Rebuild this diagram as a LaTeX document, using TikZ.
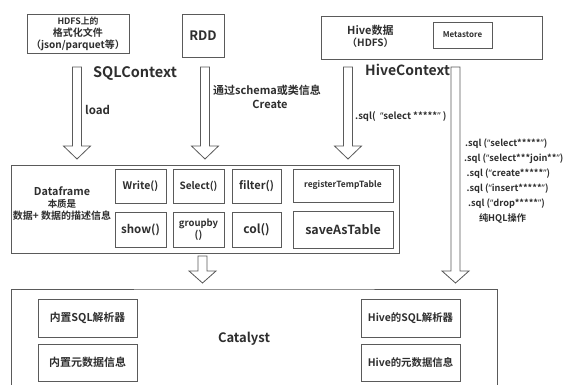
\documentclass[tikz,border=0pt]{standalone}
\usepackage{fontspec}
\setmainfont{Noto Sans CJK SC}[BoldFont={Noto Sans CJK SC Bold}]
\newfontfamily\qf{Noto Sans}
\newcommand\fsz[2]{\fontsize{#1}{#2}\selectfont}
% narrow Latin quotes
\newcommand\oq{{\qf “}}
\newcommand\cq{{\qf ”}}
% block arrow: name, centre x, top y, head y, tip y
\newcommand\blockarrow[5]{%
  \coordinate (#1-top) at (#2,#3);
  \coordinate (#1-tip) at (#2,#5);
  \draw[arrowline] (#2-4.5,#3) -- (#2-4.5,#4) -- (#2-13.5,#4) -- (#1-tip)
    -- (#2+13.5,#4) -- (#2+4.5,#4) -- (#2+4.5,#3) -- cycle;}
\definecolor{linegray}{HTML}{5A5A5A}
\definecolor{txt}{HTML}{2E2E2E}
\begin{document}
\begin{tikzpicture}[x=1pt,y=-1pt,
  box/.style={draw=linegray,line width=0.9pt,fill=white,inner sep=0pt,
    align=center,font=\bfseries,text=txt},
  lbl/.style={inner sep=0pt,font=\bfseries,text=txt},
  arrowline/.style={draw=linegray,line width=0.8pt,fill=white,line join=miter}]
\useasboundingbox[fill=white] (0,0) rectangle (566,385);

% sources
\node[box,minimum width=102pt,minimum height=39pt] (hdfs) at (78,33.5)
  {\fsz{8.8}{9.8}HDFS上的\\格式化文件\\（json/parquet等）};
\node[box,minimum width=42pt,minimum height=43pt] (rdd) at (203,35.5)
  {\fsz{13}{15}RDD};
\node[box,minimum width=221pt,minimum height=43pt] (hive) at (431.5,37.5) {};
\node[lbl,anchor=west,align=left] (hivetxt) at (347,36)
  {\fsz{11}{14}Hive数据\\（HDFS）};
\node[box,minimum width=59pt,minimum height=26pt] (meta) at (462.5,35)
  {\fsz{8}{9}Metastore};

\node[lbl,anchor=west] (sqlctx) at (93,73) {\fsz{14.5}{16}SQLContext};
\node[lbl,anchor=west] (hivectx) at (365,70) {\fsz{14}{16}HiveContext};

% block arrows
\blockarrow{aload}{77}{67}{146}{159}
\blockarrow{ardd}{205}{67}{146}{159}
\blockarrow{asql}{348}{67}{146}{159}
\blockarrow{ahql}{455.5}{67}{271}{283}
\blockarrow{adf}{202.5}{256}{271}{283}

\node[lbl,anchor=west] (load) at (85,110) {\fsz{11.5}{13}load};
\node[lbl,anchor=west] (via) at (213,90) {\fsz{11}{13}通过schema或类信息};
\node[lbl] (create) at (270,104) {\fsz{11}{13}Create};
\node[lbl,anchor=west] (sqlsel) at (355,117) {\fsz{9.5}{11}.sql(\ \ \oq select *****\cq\ )};

\node[lbl,anchor=west] (q1) at (465,143.5) {\fsz{9.2}{10}.sql (\oq select*****\cq)};
\node[lbl,anchor=west] (q2) at (464,158.5) {\fsz{9.2}{10}.sql (\oq select***join**\cq)};
\node[lbl,anchor=west] (q3) at (466.5,173.5) {\fsz{9.2}{10}.sql (\oq create*****\cq)};
\node[lbl,anchor=west] (q4) at (466.5,189) {\fsz{9.2}{10}.sql (\oq insert*****\cq)};
\node[lbl,anchor=west] (q5) at (468,204) {\fsz{9.2}{10}.sql (\oq drop*****\cq)};
\node[lbl] (q6) at (502.5,218.5) {\fsz{9.2}{10}纯HQL操作};

% Dataframe
\node[box,minimum width=388pt,minimum height=88pt] (df) at (205,209) {};
\node[lbl,align=center] (dftxt) at (62,204)
  {\fsz{10.8}{11.5}Dataframe\\\fsz{9.5}{11.5}本质是\\数据+ 数据的描述信息};
\node[box,minimum width=51pt,minimum height=34pt] (write) at (140.5,186) {\fsz{10.5}{12}Write()};
\node[box,minimum width=51pt,minimum height=34pt] (select) at (198.5,186) {\fsz{10}{12}Select()};
\node[box,minimum width=49pt,minimum height=34pt] (filter) at (256.5,186) {\fsz{11}{13}filter()};
\node[box,minimum width=100pt,minimum height=33pt] (regt) at (343,185.5) {\fsz{8.5}{10}registerTempTable};
\node[box,minimum width=51pt,minimum height=35pt] (show) at (140.5,229.5) {\fsz{11.5}{13}show()};
\node[box,minimum width=51pt,minimum height=35pt] (group) at (198.5,229.5) {\fsz{9.5}{11}groupby\\()};
\node[box,minimum width=49pt,minimum height=35pt] (col) at (256.5,229.5) {\fsz{12}{14}col()};
\node[box,minimum width=100pt,minimum height=37pt] (save) at (343,229.5) {\fsz{12.5}{14}saveAsTable};

% Catalyst (runs past the lower edge)
\coordinate (catbl) at (11,392);
\coordinate (catbr) at (497,392);
\draw[draw=linegray,line width=0.9pt] (catbl) |- (254,289) -| (catbr);
\node[lbl] (catalyst) at (244,339) {\fsz{13}{15}Catalyst};
\node[box,minimum width=99pt,minimum height=38pt] (insql) at (87.5,318) {\fsz{10.8}{12}内置SQL解析器};
\node[box,minimum width=99pt,minimum height=37pt] (inmeta) at (87.5,362.5) {\fsz{11}{12}内置元数据信息};
\node[box,minimum width=99pt,minimum height=38pt] (hvsql) at (410.5,318) {\fsz{10.4}{12}Hive的SQL解析器};
\node[box,minimum width=99pt,minimum height=37pt] (hvmeta) at (410.5,362.5) {\fsz{10.4}{12}Hive的元数据信息};
\end{tikzpicture}
\end{document}
